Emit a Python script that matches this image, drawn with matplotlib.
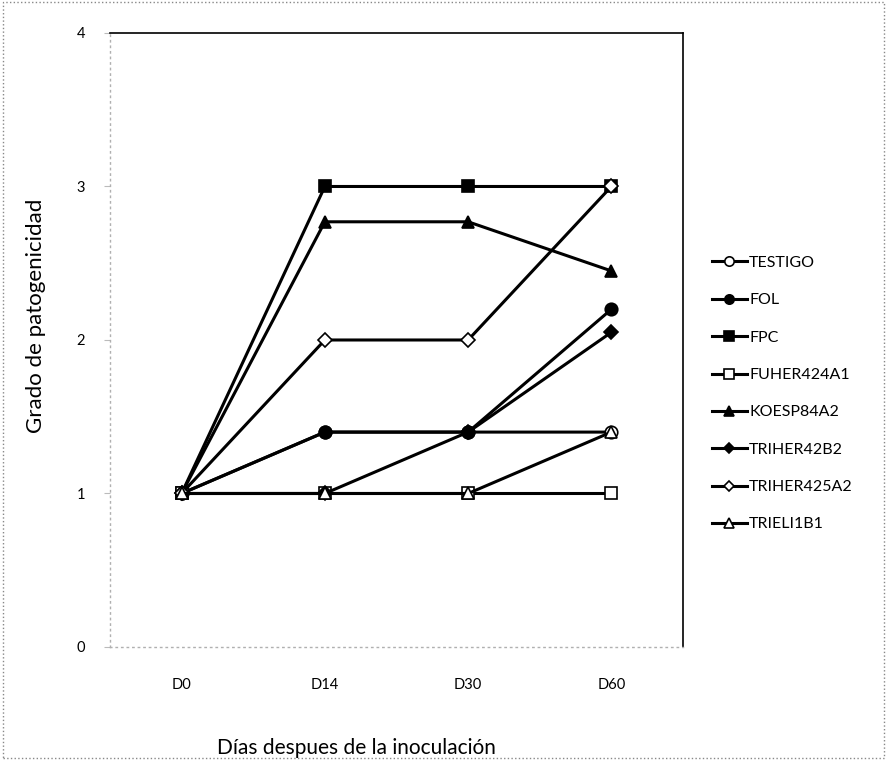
import matplotlib.pyplot as plt
from matplotlib.patches import Rectangle

dias = ["D0", "D14", "D30", "D60"]

testigo = [1, 1.4, 1.4, 1.4]
fol = [1, 1.4, 1.4, 2.2]
fpc = [1, 3, 3, 3]
fuher424a1 = [1, 1, 1, 1]
koesp84a2 = [1, 2.77, 2.77, 2.45]
triher42b2 = [1, 1, 1.4, 2.05]
triher425a2 = [1, 2, 2, 3]
trieli1b1 = [1, 1, 1, 1.4]

series = [
    ("TESTIGO", testigo, "o", "white"),
    ("FOL", fol, "o", "black"),
    ("FPC", fpc, "s", "black"),
    ("FUHER424A1", fuher424a1, "s", "white"),
    ("KOESP84A2", koesp84a2, "^", "black"),
    ("TRIHER42B2", triher42b2, "D", "black"),
    ("TRIHER425A2", triher425a2, "D", "white"),
    ("TRIELI1B1", trieli1b1, "^", "white"),
]

plt.rcParams["font.family"] = ["Lato", "DejaVu Sans"]

fig = plt.figure(figsize=(8.87, 7.6), dpi=100)
ax = fig.add_axes([0.124, 0.1487, 0.646, 0.8079])

x = list(range(len(dias)))
for name, vals, mk, face in series:
    ms = 7 if mk == "D" else 9
    ax.plot(x, vals, color="black", lw=2.2, marker=mk, markersize=ms,
            markerfacecolor=face, markeredgecolor="black", markeredgewidth=1.2,
            label=name)

ax.set_xlim(-0.5, 3.5)
ax.set_ylim(0, 4)
ax.set_yticks([0, 1, 2, 3, 4])
ax.set_xticks(x)
ax.set_xticklabels(dias)
ax.tick_params(axis="x", length=0, pad=22, labelsize=10.5)
ax.tick_params(axis="y", length=4, color="#bbbbbb", direction="out", pad=14, labelsize=10.5)

# top/right drawn solid, the axes themselves dotted grey
for side in ("top", "right"):
    ax.spines[side].set_color("black")
    ax.spines[side].set_linewidth(1.2)
for side in ("left", "bottom"):
    ax.spines[side].set_color("#b0b0b0")
    ax.spines[side].set_linestyle((0, (1, 3)))
    ax.spines[side].set_linewidth(1.0)

ax.set_ylabel("Grado de patogenicidad", fontsize=16)
ax.yaxis.set_label_coords(-0.112, 0.54)
ax.set_xlabel("Días despues de la inoculación", fontsize=15)
ax.xaxis.set_label_coords(0.43, -0.148)

fig.legend(loc="center left", bbox_to_anchor=(0.786, 0.482), frameon=False,
           fontsize=11.5, labelspacing=1.45, handlelength=2.2, handletextpad=0.15,
           markerscale=0.75)

# dotted outer chart frame
fig.patches.append(Rectangle((0.003, 0.003), 0.994, 0.994, transform=fig.transFigure,
                             fill=False, edgecolor="#888888", linestyle=":", lw=1.0))

fig.savefig("out.png", dpi=100)
